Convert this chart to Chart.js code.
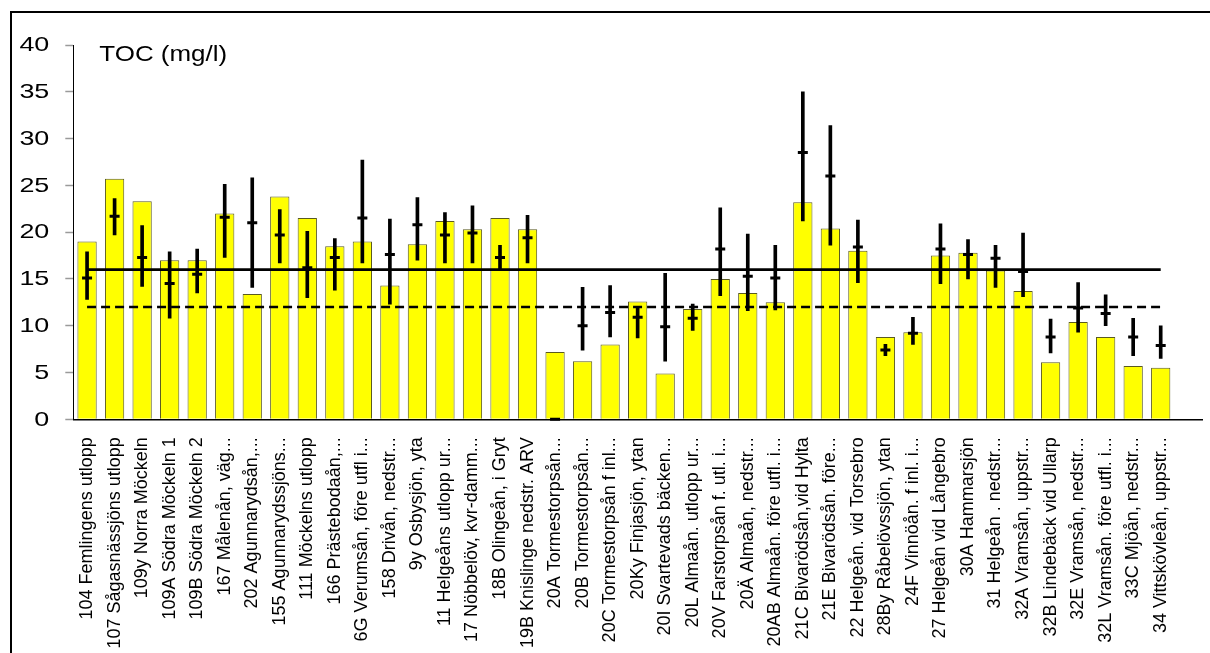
<!DOCTYPE html>
<html lang="sv">
<head>
<meta charset="utf-8">
<title>TOC (mg/l)</title>
<script src="https://cdn.jsdelivr.net/npm/chart.js@4/dist/chart.umd.min.js"></script>
<style>
  html, body { margin: 0; padding: 0; background: #fff; }
  #wrap { position: relative; width: 1210px; height: 653px; overflow: hidden; }
  #frame { position: absolute; left: 10px; top: 11px; width: 1210px; height: 653px;
           border-left: 2px solid #000; border-top: 2px solid #000; box-sizing: border-box; }
  canvas { position: absolute; left: 0; top: 0; }
</style>
</head>
<body>
<div id="wrap">
  <canvas id="chart" width="1210" height="653"></canvas>
  <div id="frame"></div>
</div>
<script>
// Sampling stations
const categories = [
  "104 Femlingens utlopp", "107 Sågasnässjöns utlopp", "109y Norra Möckeln",
  "109A Södra Möckeln 1", "109B Södra Möckeln 2", "167 Målenån, väg...",
  "202 Agunnarydsån,...", "155 Agunnarydssjöns...", "111 Möckelns utlopp",
  "166 Prästebodaån,...", "6G Verumsån, före utfl i...", "158 Drivån, nedstr...",
  "9y Osbysjön, yta", "11 Helgeåns utlopp ur...", "17 Nöbbelöv, kvr-damm...",
  "18B Olingeån, i Gryt", "19B Knislinge nedstr. ARV", "20A Tormestorpsån...",
  "20B Tormestorpsån...", "20C Tormestorpsån f inl...", "20Ky Finjasjön, ytan",
  "20I Svartevads bäcken...", "20L Almaån. utlopp ur...", "20V Farstorpsån f. utl. i...",
  "20Ä Almaån, nedstr...", "20AB Almaån. före utfl. i...", "21C Bivarödsån,vid Hylta",
  "21E Bivarödsån. före...", "22 Helgeån. vid Torsebro", "28By Råbelövssjön, ytan",
  "24F Vinnöån. f inl. i...", "27 Helgeån vid Långebro", "30A Hammarsjön",
  "31 Helgeån . nedstr...", "32A Vramsån, uppstr...", "32B Lindebäck vid Ullarp",
  "32E Vramsån, nedstr...", "32L Vramsån. före utfl. i...", "33C Mjöån, nedstr...",
  "34 Vittskövleån, uppstr...", ""
];

// TOC for the current year (bars)
const tocValues = [
  19.0, 25.7, 23.3, 17.0, 17.0, 22.0, 13.4, 23.8, 21.5, 18.5,
  19.0, 14.3, 18.7, 21.2, 20.3, 21.5, 20.3, 7.2, 6.2, 8.0,
  12.6, 4.9, 11.8, 15.0, 13.5, 12.5, 23.2, 20.4, 18.0, 8.8,
  9.3, 17.5, 17.8, 15.9, 13.7, 6.1, 10.4, 8.8, 5.7, 5.5, null
];

// Reference period: lowest, highest and median value
const refMin = [
  12.8, 19.7, 14.2, 10.8, 13.5, 17.3, 14.1, 16.7, 13.0, 13.8,
  16.7, 12.3, 17.0, 16.7, 16.7, 15.9, 16.7, null, 7.4, 8.8,
  8.7, 6.2, 9.5, 13.2, 11.6, 11.7, 21.2, 18.6, 14.6, 6.8,
  8.0, 14.5, 15.0, 14.1, 13.1, 7.1, 9.3, 10.0, 6.8, 6.5, null
];
const refMax = [
  17.9, 23.6, 20.7, 17.9, 18.2, 25.1, 25.8, 22.4, 20.1, 19.3,
  27.7, 21.4, 23.7, 22.1, 22.8, 18.6, 21.8, null, 14.1, 14.3,
  12.0, 15.6, 12.3, 22.6, 19.8, 18.6, 35.0, 31.4, 21.3, 8.0,
  10.9, 20.9, 19.2, 18.6, 19.9, 10.7, 14.6, 13.3, 10.8, 10.0, null
];
const refMedian = [
  15.1, 21.7, 17.3, 14.5, 15.5, 21.6, 21.0, 19.7, 16.2, 17.3,
  21.5, 17.6, 20.8, 19.7, 19.9, 17.3, 19.4, 0.0, 10.0, 11.4,
  10.9, 9.9, 10.8, 18.2, 15.3, 15.1, 28.5, 26.0, 18.4, 7.4,
  9.2, 18.2, 17.6, 17.2, 15.8, 8.8, 11.9, 11.3, 8.8, 7.9, null
];

// Class limits (solid 16 mg/l, dashed 12 mg/l)
const limitHigh = [
  16, 16, 16, 16, 16, 16, 16, 16, 16, 16, 16, 16, 16, 16, 16, 16, 16, 16, 16, 16,
  16, 16, 16, 16, 16, 16, 16, 16, 16, 16, 16, 16, 16, 16, 16, 16, 16, 16, 16, 16, null
];
const limitLow = [
  12, 12, 12, 12, 12, 12, 12, 12, 12, 12, 12, 12, 12, 12, 12, 12, 12, 12, 12, 12,
  12, 12, 12, 12, 12, 12, 12, 12, 12, 12, 12, 12, 12, 12, 12, 12, 12, 12, 12, 12, null
];

const yTicks = [0, 5, 10, 15, 20, 25, 30, 35, 40];
const axisTitle = "TOC (mg/l)";

const FONT = '"Liberation Sans", Arial, Helvetica, sans-serif';

// Y tick labels and the axis caption are drawn slightly widened
const wideText = {
  id: 'wideText',
  afterDraw(chart) {
    const ctx = chart.ctx;
    const y = chart.scales.y;
    const area = chart.chartArea;
    ctx.save();
    ctx.fillStyle = '#000';
    ctx.font = '21px ' + FONT;
    ctx.textAlign = 'right';
    ctx.textBaseline = 'middle';
    yTicks.forEach(v => {
      const py = y.getPixelForValue(v);
      ctx.save();
      ctx.translate(area.left - 24, py + 0.5);
      ctx.scale(1.28, 1);
      ctx.fillText(String(v), 0, 0);
      ctx.restore();
    });
    ctx.font = '22px ' + FONT;
    ctx.textAlign = 'left';
    ctx.textBaseline = 'alphabetic';
    ctx.translate(area.left + 26, area.top + 16);
    ctx.scale(1.18, 1);
    ctx.fillText(axisTitle, 0, 0);
    ctx.restore();
  }
};

const rangePairs = refMin.map((lo, i) => (lo === null || refMax[i] === null) ? null : [lo, refMax[i]]);

new Chart(document.getElementById('chart'), {
  type: 'bar',
  data: {
    labels: categories,
    datasets: [
      {
        type: 'bar',
        data: tocValues,
        backgroundColor: '#ffff00',
        borderColor: '#5a5a20',
        borderWidth: 1,
        barPercentage: 0.70,
        categoryPercentage: 1.0,
        grouped: false,
        order: 4
      },
      {
        type: 'line',
        data: limitHigh,
        borderColor: '#000',
        borderWidth: 2.6,
        pointRadius: 0,
        fill: false,
        order: 3
      },
      {
        type: 'line',
        data: limitLow,
        borderColor: '#000',
        borderWidth: 2.6,
        borderDash: [9, 5],
        pointRadius: 0,
        fill: false,
        order: 3
      },
      {
        type: 'bar',
        data: rangePairs,
        backgroundColor: '#000',
        borderWidth: 0,
        barThickness: 3,
        grouped: false,
        order: 2
      },
      {
        type: 'line',
        data: refMedian,
        showLine: false,
        pointStyle: 'line',
        pointRadius: 5,
        pointBorderWidth: 3,
        pointBorderColor: '#000',
        pointBackgroundColor: '#000',
        clip: 4,
        order: 1
      }
    ]
  },
  options: {
    responsive: false,
    animation: false,
    events: [],
    layout: { padding: { top: 45, right: 5, left: 0, bottom: 0 } },
    plugins: { legend: { display: false }, tooltip: { enabled: false } },
    scales: {
      x: {
        offset: true,
        grid: { display: false },
        border: { display: true, color: '#000', width: 1.5 },
        ticks: {
          autoSkip: false,
          minRotation: 90,
          maxRotation: 90,
          padding: 10,
          color: '#000',
          font: { family: FONT, size: 18 }
        },
        afterFit(scale) {
          scale.height = 233.7;
          scale.paddingLeft = 0;
          scale.paddingRight = 0;
        }
      },
      y: {
        min: 0,
        max: 40,
        grid: {
          drawOnChartArea: false,
          drawTicks: true,
          tickLength: 8,
          tickColor: '#9a9a9a',
          tickWidth: 1.5
        },
        border: { display: true, color: '#000', width: 1 },
        ticks: { stepSize: 5, display: false },
        afterFit(scale) { scale.width = 73.3; }
      }
    }
  },
  plugins: [wideText]
});
</script>
</body>
</html>
